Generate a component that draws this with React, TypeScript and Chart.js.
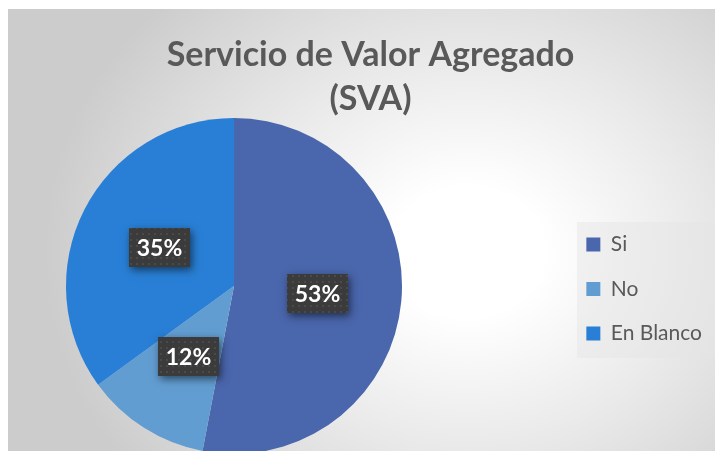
import React, { useEffect, useRef } from 'react';
import { Chart, registerables } from 'chart.js';

Chart.register(...registerables);

// ---- data ----
const categories = ['Si', 'No', 'En Blanco'];
const values = [53, 12, 35];
const colors = ['#4A66AC', '#629DD1', '#297FD5'];
const titleLines = ['Servicio de Valor Agregado', '(SVA)'];

const W = 707;
const H = 450;

function makePattern(ctx: CanvasRenderingContext2D) {
  const c = document.createElement('canvas');
  c.width = 6;
  c.height = 6;
  const g = c.getContext('2d')!;
  g.fillStyle = '#3b3b3b';
  g.fillRect(0, 0, 6, 6);
  g.fillStyle = '#4a4a4a';
  g.fillRect(2, 2, 2, 2);
  return ctx.createPattern(c, 'repeat');
}

// place the pie (layout only)
const pieAreaPlugin = {
  id: 'pieArea',
  afterLayout(chart: any) {
    const cx = 226;
    const cy = 277;
    const r = 168;
    chart.chartArea = {
      left: cx - r,
      right: cx + r,
      top: cy - r,
      bottom: cy + r,
      width: 2 * r,
      height: 2 * r,
    };
  },
  beforeDraw(chart: any) {
    // light panel behind the legend
    const ctx: CanvasRenderingContext2D = chart.ctx;
    ctx.save();
    ctx.fillStyle = 'rgba(228,228,228,0.45)';
    ctx.fillRect(569, 213, 138, 136);
    ctx.restore();
  },
};

const sliceLabelPlugin = {
  id: 'sliceLabels',
  afterDatasetsDraw(chart: any) {
    const ctx: CanvasRenderingContext2D = chart.ctx;
    const meta = chart.getDatasetMeta(0);
    const pattern = makePattern(ctx);
    const data = chart.data.datasets[0].data as number[];
    meta.data.forEach((arc: any, i: number) => {
      const p = arc.tooltipPosition(false);
      const bw = 61;
      const bh = 39;
      const x = Math.round(p.x - bw / 2);
      const y = Math.round(p.y - bh / 2);
      ctx.save();
      ctx.shadowColor = 'rgba(0,0,0,0.55)';
      ctx.shadowBlur = 8;
      ctx.shadowOffsetX = 2;
      ctx.shadowOffsetY = 3;
      ctx.fillStyle = '#3b3b3b';
      ctx.fillRect(x, y, bw, bh);
      ctx.restore();
      ctx.save();
      if (pattern) {
        ctx.fillStyle = pattern;
        ctx.fillRect(x, y, bw, bh);
      }
      ctx.fillStyle = '#ffffff';
      ctx.font = 'bold 23px Lato';
      ctx.textAlign = 'center';
      ctx.textBaseline = 'middle';
      ctx.fillText(data[i] + '%', x + bw / 2, y + bh / 2 + 1);
      ctx.restore();
    });
  },
};

export default function App() {
  const ref = useRef<HTMLCanvasElement>(null);

  useEffect(() => {
    if (!ref.current) return;
    const chart = new Chart(ref.current, {
      type: 'pie',
      data: {
        labels: categories,
        datasets: [
          {
            data: values,
            backgroundColor: colors,
            borderWidth: 0,
          },
        ],
      },
      options: {
        responsive: false,
        animation: false,
        events: [],
        layout: { padding: { left: 21, right: 3, top: 0, bottom: 12 } },
        plugins: {
          tooltip: { enabled: false },
          title: {
            display: true,
            text: titleLines,
            color: '#595959',
            font: { family: 'Lato', weight: 'bold', size: 34, lineHeight: 44 / 34 },
            padding: { top: 24, bottom: 10 },
          },
          legend: {
            display: true,
            position: 'right',
            fullSize: false,
            labels: {
              color: '#595959',
              font: { family: 'Lato', size: 21 },
              boxWidth: 14,
              boxHeight: 14,
              padding: 23.5,
            },
          },
        },
      },
      plugins: [pieAreaPlugin, sliceLabelPlugin],
    } as any);
    return () => chart.destroy();
  }, []);

  return (
    <div
      style={{
        position: 'fixed',
        left: 8,
        top: 9,
        width: W,
        height: H,
        background:
          'radial-gradient(ellipse 60% 80% at 65% 54%, #ffffff 0%, #ffffff 18%, #e9e9e9 55%, #d6d6d6 85%, #cccccc 100%)',
      }}
    >
      <canvas ref={ref} width={W} height={H} style={{ display: 'block' }} />
    </div>
  );
}
